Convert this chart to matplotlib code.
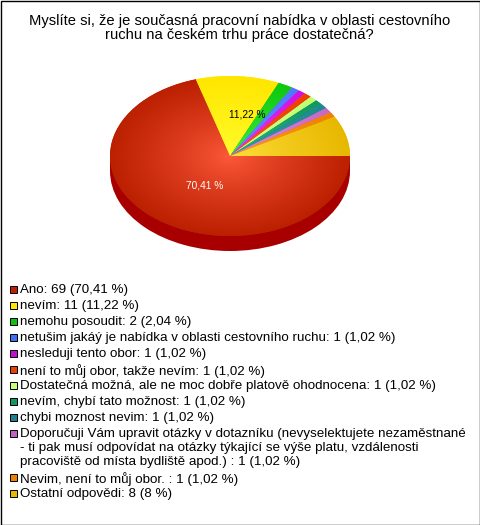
import numpy as np
import matplotlib
matplotlib.use('Agg')
import matplotlib.pyplot as plt
from matplotlib.patches import Rectangle

plt.rcParams['font.family'] = ['Liberation Sans', 'DejaVu Sans']

title = ("Myslíte si, že je současná pracovní nabídka v oblasti cestovního\n"
         "ruchu na českém trhu práce dostatečná?")
categories = [
    "Ano",
    "nevím",
    "nemohu posoudit",
    "netušim jakáý je nabídka v oblasti cestovního ruchu",
    "nesleduji tento obor",
    "není to můj obor, takže nevím",
    "Dostatečná možná, ale ne moc dobře platově ohodnocena",
    "nevím, chybí tato možnost",
    "chybi moznost nevim",
    "Doporučuji Vám upravit otázky v dotazníku (nevyselektujete nezaměstnané\n"
    "- ti pak musí odpovídat na otázky týkající se výše platu, vzdálenosti\n"
    "pracoviště od místa bydliště apod.) ",
    "Nevim, není to můj obor. ",
    "Ostatní odpovědi",
]
counts = [69, 11, 2, 1, 1, 1, 1, 1, 1, 1, 1, 8]
percents = ["70,41", "11,22", "2,04", "1,02", "1,02", "1,02", "1,02", "1,02", "1,02",
            "1,02", "1,02", "8"]
swatch_colors = ["#c02000", "#ffe800", "#10c010", "#4070f0", "#c010d0", "#e84000",
                 "#c8ff70", "#109860", "#208090", "#c060c0", "#f08000", "#e8b800"]
inner_colors = ["#ff5a3c", "#ffff30", "#40f040", "#6090ff", "#f040ff", "#ff5020",
                "#d8ff90", "#30b880", "#30a0a8", "#e090e0", "#ffa020", "#ffe040"]
outer_colors = ["#bb2000", "#ffe600", "#10c810", "#5078ff", "#d010e0", "#ee4000",
                "#c0ff70", "#109860", "#208890", "#c868c8", "#f08000", "#e8b800"]

W, H = 480, 525
fig = plt.figure(figsize=(W / 100, H / 100), dpi=100)

# pie axes: ellipse centre 230,156, rx 120, ry 80
cx, cy, rx, ry, depth = 230, 156, 120, 80, 15
ax = fig.add_axes([(cx - rx) / W, 1 - (cy + ry) / H, 2 * rx / W, 2 * ry / H])
ax.axis('off')

d = depth / ry
ax.pie([1], colors=['#a80000'], center=(0, -d), radius=1, normalize=True)
ax.fill_between([-1, 1], -d, 0, color='#a80000', lw=0)
wedges, _ = ax.pie(counts, colors=outer_colors, startangle=0, counterclock=False,
                   radius=1, center=(0, 0))
ax.set_xlim(-1, 1)
ax.set_ylim(-1 - d, 1)
ax.set_position([(cx - rx) / W, 1 - (cy + ry + depth) / H, 2 * rx / W, (2 * ry + depth) / H])
ax.set_aspect('auto')

# radial shading of each slice, clipped to the wedge
xx, yy = np.meshgrid(np.linspace(-1, 1, 480), np.linspace(-1, 1, 320))
rr = np.clip(np.hypot(xx, yy), 0, 1)[..., None]
for w, c0, c1 in zip(wedges, inner_colors, outer_colors):
    a = np.array(matplotlib.colors.to_rgb(c0))
    b = np.array(matplotlib.colors.to_rgb(c1))
    img = a + (b - a) * rr ** 0.8
    im = ax.imshow(img, extent=(-1, 1, -1, 1), origin='lower', aspect='auto',
                   interpolation='bilinear', zorder=3)
    im.set_clip_path(w)
ax.set_xlim(-1, 1)
ax.set_ylim(-1 - d, 1)

# overlay in pixel coordinates for the texts and the legend
ov = fig.add_axes([0, 0, 1, 1], facecolor='none')
ov.set_xlim(0, W)
ov.set_ylim(H, 0)
ov.axis('off')
ov.add_patch(Rectangle((0.5, 0.5), W - 1, H - 1, fill=False, ec='black', lw=1))

ov.text(239.5, 28, title, ha='center', va='center', fontsize=10.6, linespacing=1.0)
ov.text(204.5, 186, "70,41 %", color='white', ha='center', va='center', fontsize=7.3)
ov.text(247.5, 114.5, "11,22 %", color='black', ha='center', va='center', fontsize=7.3)

row_y = [289, 305, 321, 337, 353, 369, 385, 401, 417, 433, 477, 493]
legend_size = 9.6
for name, n, p, col, y in zip(categories, counts, percents, swatch_colors, row_y):
    ov.add_patch(Rectangle((9.5, y - 3.5), 7.5, 7.5, fc=col, ec='black', lw=0.7))
    label = f"{name}: {n} ({p} %)"
    ov.text(20, y - 4.5, label, ha='left', va='top', fontsize=legend_size, linespacing=1.17)

fig.savefig('out.png', dpi=100)
